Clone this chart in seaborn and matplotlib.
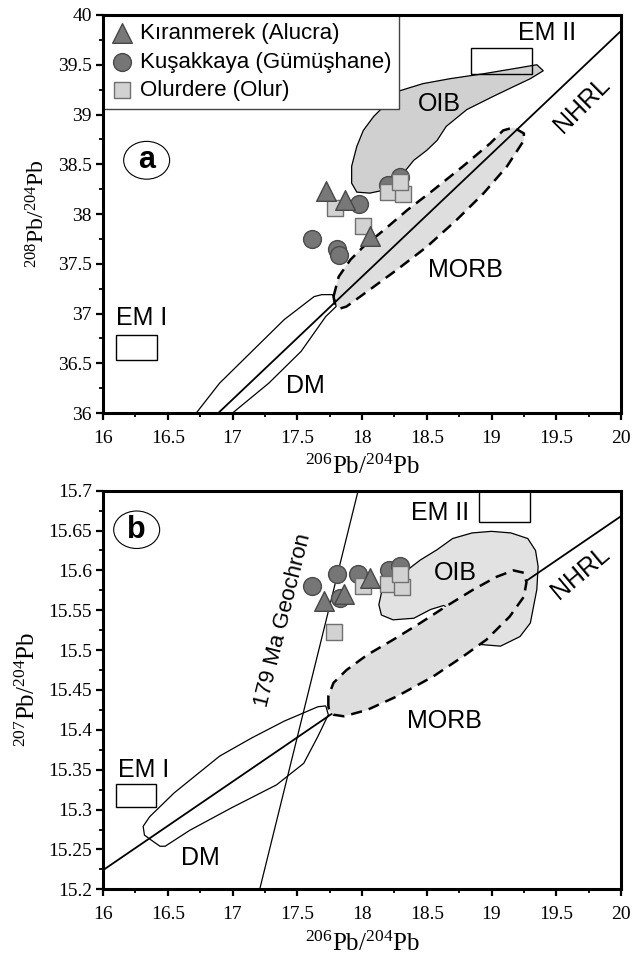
import numpy as np
import pandas as pd
import matplotlib
matplotlib.use("Agg")
import matplotlib.pyplot as plt
from matplotlib.patches import Ellipse, Rectangle
from matplotlib.ticker import MultipleLocator, FuncFormatter
import seaborn as sns

sns.set_style("ticks")
plt.rcParams["font.family"] = ["Liberation Serif", "DejaVu Serif"]
plt.rcParams["mathtext.fontset"] = "custom"
plt.rcParams["mathtext.rm"] = "Liberation Serif"
plt.rcParams["mathtext.it"] = "Liberation Serif:italic"
for k in ["text.color", "axes.labelcolor", "xtick.color", "ytick.color"]:
    plt.rcParams[k] = "black"
SANS = ["Liberation Sans", "DejaVu Sans"]

# ---- sample data, panel a (208/204 vs 206/204)
a_tri_x = [17.72, 17.87, 18.06]
a_tri_y = [38.23, 38.14, 37.78]
a_cir_x = [17.98, 17.61, 17.81, 17.82, 18.29, 18.20]
a_cir_y = [38.10, 37.75, 37.65, 37.59, 38.37, 38.29]
a_sq_x = [17.79, 18.01, 18.20, 18.32, 18.29]
a_sq_y = [38.06, 37.88, 38.22, 38.20, 38.32]

# ---- sample data, panel b (207/204 vs 206/204)
b_cir_x = [17.61, 17.81, 17.97, 18.21, 18.29, 17.83]
b_cir_y = [15.580, 15.595, 15.595, 15.601, 15.605, 15.565]
b_tri_x = [17.71, 17.86, 18.06]
b_tri_y = [15.561, 15.570, 15.591]
b_sq_x = [18.01, 18.20, 18.31, 17.78, 18.29]
b_sq_y = [15.580, 15.583, 15.579, 15.523, 15.595]

groups = ["Kıranmerek (Alucra)", "Kuşakkaya (Gümüşhane)", "Olurdere (Olur)"]

# ---- reference fields, panel a
oib_a_x = [18.27, 18.47, 18.68, 18.94, 19.17, 19.35, 19.40, 19.30, 19.17, 19.01, 18.81,
           18.65, 18.58, 18.50, 18.40, 18.35, 18.27, 18.17, 18.06, 17.96, 17.92, 17.92,
           17.96, 18.01, 18.09, 18.19]
oib_a_y = [39.23, 39.31, 39.36, 39.41, 39.46, 39.50, 39.44, 39.36, 39.28, 39.18, 39.05,
           38.88, 38.74, 38.64, 38.54, 38.46, 38.34, 38.24, 38.21, 38.22, 38.31, 38.48,
           38.68, 38.84, 38.98, 39.11]
morb_a_x = [17.78, 17.82, 17.91, 18.01, 18.17, 18.35, 18.55, 18.78, 18.99, 19.09, 19.17,
            19.25, 19.25, 19.20, 19.12, 18.94, 18.73, 18.50, 18.27, 18.06, 17.88, 17.83, 17.79]
morb_a_y = [37.17, 37.37, 37.54, 37.67, 37.84, 38.04, 38.24, 38.48, 38.71, 38.84, 38.87,
            38.81, 38.74, 38.64, 38.48, 38.21, 37.94, 37.67, 37.44, 37.24, 37.07, 37.05, 37.10]
dm_a_x = [16.72, 16.90, 17.15, 17.40, 17.53, 17.63, 17.69, 17.77, 17.79, 17.80,
          17.72, 17.53, 17.28, 17.00]
dm_a_y = [36.00, 36.30, 36.62, 36.94, 37.07, 37.17, 37.19, 37.19, 37.14, 37.07,
          36.97, 36.62, 36.30, 36.00]
em1_a = (16.10, 36.53, 16.42, 36.78)
em2_a = (18.84, 39.41, 19.31, 39.67)
nhrl_a_x = [16.89, 20.0]
nhrl_a_y = [36.00, 39.84]

# ---- reference fields, panel b
oib_b_x = [18.13, 18.15, 18.26, 18.37, 18.45, 18.58, 18.70, 18.85, 19.00, 19.15, 19.28,
           19.34, 19.36, 19.35, 19.30, 19.22, 19.07, 18.92, 18.89, 18.80, 18.70, 18.63,
           18.53, 18.40, 18.24, 18.15]
oib_b_y = [15.557, 15.572, 15.590, 15.603, 15.613, 15.626, 15.640, 15.647, 15.649, 15.647,
           15.640, 15.625, 15.605, 15.576, 15.534, 15.517, 15.505, 15.507, 15.513, 15.535,
           15.550, 15.556, 15.551, 15.540, 15.538, 15.544]
morb_b_x = [17.74, 17.74, 17.78, 17.88, 18.04, 18.24, 18.45, 18.65, 18.86, 19.04, 19.17,
            19.25, 19.27, 19.25, 19.14, 18.96, 18.78, 18.55, 18.27, 18.04, 17.86, 17.78, 17.75]
morb_b_y = [15.429, 15.442, 15.459, 15.475, 15.494, 15.513, 15.534, 15.555, 15.576, 15.592,
            15.600, 15.597, 15.585, 15.567, 15.542, 15.513, 15.492, 15.467, 15.442, 15.425,
            15.417, 15.419, 15.423]
dm_b_x = [17.66, 17.40, 17.15, 16.90, 16.55, 16.36, 16.31, 16.32, 16.37, 16.44, 16.48,
          16.67, 16.99, 17.34, 17.55, 17.66, 17.74, 17.72]
dm_b_y = [15.429, 15.411, 15.390, 15.367, 15.321, 15.291, 15.279, 15.268, 15.262, 15.254,
          15.254, 15.274, 15.302, 15.331, 15.358, 15.392, 15.419, 15.430]
em1_b = (16.10, 15.303, 16.41, 15.332)
em2_b = (18.90, 15.661, 19.30, 15.700)
nhrl_b_x = [16.0, 20.0]
nhrl_b_y = [15.224, 15.668]
geo_x = [17.21, 17.97]
geo_y = [15.20, 15.70]

fig = plt.figure(figsize=(6.41, 9.55), dpi=100)
ax_a = fig.add_axes([0.1607, 0.5675, 0.8081, 0.4168])
ax_b = fig.add_axes([0.1607, 0.0688, 0.8081, 0.4174])

mk = {"tri": dict(marker="^", s=200, color="#787878", edgecolor="#484848"),
      "cir": dict(marker="o", s=165, color="#767676", edgecolor="#4a4a4a"),
      "sq": dict(marker="s", s=130, color="#d2d2d2", edgecolor="#707070")}


def draw_points(ax, tri, cir, sq, legend):
    for key, (xs, ys), lab in zip(["cir", "sq", "tri"], [cir, sq, tri],
                                  [groups[1], groups[2], groups[0]]):
        df = pd.DataFrame({"x": xs, "y": ys})
        sns.scatterplot(data=df, x="x", y="y", ax=ax, linewidth=1.0, zorder=6,
                        label=lab if legend else None, legend=False, **mk[key])


def box(ax, r):
    ax.add_patch(Rectangle((r[0], r[1]), r[2] - r[0], r[3] - r[1], fill=False,
                           ec="black", lw=1.0, zorder=4))


def style(ax, ylim, major, minor):
    ax.set_xlim(16, 20)
    ax.set_ylim(*ylim)
    ax.xaxis.set_major_locator(MultipleLocator(0.5))
    ax.xaxis.set_minor_locator(MultipleLocator(0.25))
    ax.yaxis.set_major_locator(MultipleLocator(major))
    ax.yaxis.set_minor_locator(MultipleLocator(minor))
    fmt = FuncFormatter(lambda v, p: f"{round(v, 3):g}")
    ax.xaxis.set_major_formatter(fmt)
    ax.yaxis.set_major_formatter(fmt)
    for sp in ax.spines.values():
        sp.set_linewidth(2.2)
        sp.set_color("black")
        sp.set_zorder(10)
    ax.tick_params(which="major", direction="out", length=5, width=1.6,
                   labelsize=14, top=False, right=False)
    ax.tick_params(axis="x", which="major", pad=7)
    ax.tick_params(axis="y", which="major", pad=3)
    ax.tick_params(which="minor", direction="out", length=3, width=1.3,
                   top=False, right=False)
    ax.set_xlabel(r"$^{206}\mathrm{Pb}/^{204}\mathrm{Pb}$", fontsize=18, labelpad=6)


def label(ax, x, y, s, size=18, rot=0):
    ax.text(x, y, s, fontsize=size, family=SANS, ha="center", va="center",
            rotation=rot, rotation_mode="anchor", zorder=7)


# ---- panel a
ax = ax_a
ax.fill(oib_a_x, oib_a_y, fc="#d0d0d0", ec="black", lw=0.9, zorder=1)
ax.fill(morb_a_x, morb_a_y, fc="#dedede", ec="black", lw=1.8,
        ls=(0, (4.5, 2.8)), zorder=1.5)
ax.plot(nhrl_a_x, nhrl_a_y, color="black", lw=1.3, zorder=2)
ax.fill(dm_a_x, dm_a_y, fc="none", ec="black", lw=0.9, zorder=3)
box(ax, em1_a)
box(ax, em2_a)
draw_points(ax, (a_tri_x, a_tri_y), (a_cir_x, a_cir_y), (a_sq_x, a_sq_y), True)
label(ax, 18.60, 39.11, "OIB")
label(ax, 18.80, 37.44, "MORB")
label(ax, 17.56, 36.27, "DM")
label(ax, 16.30, 36.96, "EM I")
label(ax, 19.43, 39.82, "EM II")
label(ax, 19.70, 39.10, "NHRL", rot=45)
ax.add_patch(Ellipse((16.337, 38.54), 0.355, 0.38, fill=False, ec="black", lw=0.8, zorder=7))
ax.text(16.337, 38.54, "a", fontsize=22, fontweight="bold", family=SANS,
        ha="center", va="center", zorder=7)
style(ax, (36, 40), 0.5, 0.25)
ax.set_ylabel(r"$^{208}\mathrm{Pb}/^{204}\mathrm{Pb}$", fontsize=17, labelpad=6)

handles, labels_ = ax.get_legend_handles_labels()
order = [labels_.index(g) for g in groups]
leg = ax.legend([handles[i] for i in order], [labels_[i] for i in order],
                loc="upper left", bbox_to_anchor=(0, 1), borderaxespad=0,
                frameon=True, fancybox=False, framealpha=1, edgecolor="#444444",
                prop={"family": SANS, "size": 16}, handlelength=1.0,
                handletextpad=0.3, borderpad=0.35, labelspacing=0.35)
leg.get_frame().set_linewidth(1.0)
leg.set_zorder(9)

# ---- panel b
ax = ax_b
ax.fill(oib_b_x, oib_b_y, fc="#e2e2e2", ec="black", lw=0.9, zorder=1)
ax.plot(nhrl_b_x, nhrl_b_y, color="black", lw=1.3, zorder=2)
ax.fill(morb_b_x, morb_b_y, fc="#dedede", ec="black", lw=1.8,
        ls=(0, (4.5, 2.8)), zorder=3)
ax.fill(dm_b_x, dm_b_y, fc="none", ec="black", lw=0.9, zorder=4)
ax.plot(geo_x, geo_y, color="black", lw=0.9, zorder=4)
box(ax, em1_b)
box(ax, em2_b)
draw_points(ax, (b_tri_x, b_tri_y), (b_cir_x, b_cir_y), (b_sq_x, b_sq_y), False)
label(ax, 18.72, 15.597, "OIB")
label(ax, 18.64, 15.411, "MORB")
label(ax, 16.75, 15.239, "DM")
label(ax, 16.31, 15.350, "EM I")
label(ax, 18.60, 15.672, "EM II")
label(ax, 19.69, 15.597, "NHRL", rot=40)
label(ax, 17.39, 15.538, "179 Ma Geochron", size=16, rot=76)
ax.add_patch(Ellipse((16.26, 15.651), 0.355, 0.047, fill=False, ec="black", lw=0.8, zorder=7))
ax.text(16.26, 15.651, "b", fontsize=22, fontweight="bold", family=SANS,
        ha="center", va="center", zorder=7)
style(ax, (15.2, 15.7), 0.05, 0.025)
ax.set_ylabel(r"$^{207}\mathrm{Pb}/^{204}\mathrm{Pb}$", fontsize=18, labelpad=6)

fig.savefig("out.png", dpi=100)
